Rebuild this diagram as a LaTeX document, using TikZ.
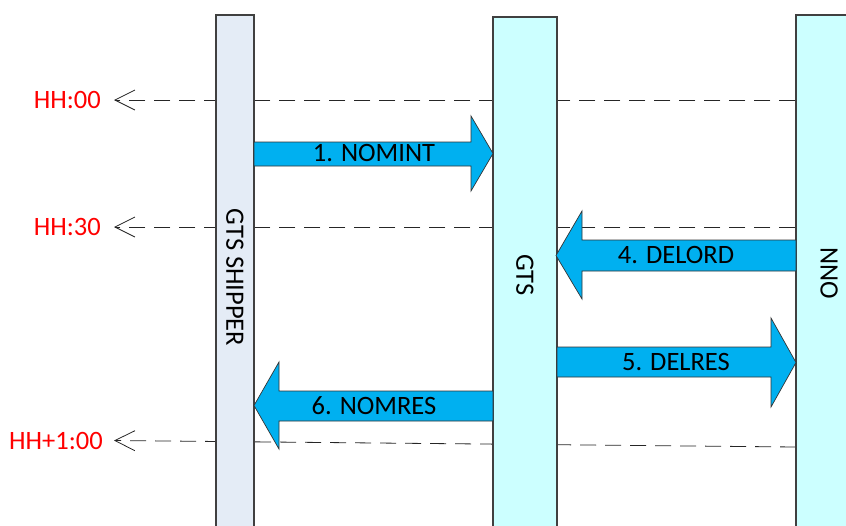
\documentclass[tikz,border=0pt]{standalone}
\usepackage{fontspec}
\setmainfont{Carlito}
\usepackage{tikz}
\usetikzlibrary{arrows.meta,positioning,backgrounds}

\definecolor{shipfill}{RGB}{228,236,246}
\definecolor{gtsfill}{RGB}{204,255,255}
\definecolor{msgblue}{RGB}{0,176,240}

\begin{document}
\begin{tikzpicture}[x=1pt,y=-1pt,font=\fontsize{26.5}{31}\selectfont]
  \tikzstyle{lane}=[draw=black!75,line width=1.2pt,minimum height=525pt,inner sep=0pt]
  \tikzstyle{lanetext}=[rotate=-90,text=black,inner sep=0pt]
  \tikzstyle{timeline}=[draw=black!85,line width=0.8pt,dash pattern=on 16pt off 9pt,
                        -{Straight Barb[length=20pt,width=20pt,line width=0.8pt]}]
  \tikzstyle{timelabel}=[text=red,inner sep=0pt]
  \tikzstyle{msg}=[fill=msgblue,draw=black!80,line width=0.7pt,line join=miter]
  \tikzstyle{msgtext}=[text=black,inner sep=0pt]

  \useasboundingbox (0,0) rectangle (846,525);

  % lanes
  \node[lane,fill=shipfill,minimum width=38pt] (ship) at (235,277.5) {};
  \node[lane,fill=gtsfill,minimum width=64pt]  (gts)  at (525,279.5) {};
  \node[lane,fill=gtsfill,minimum width=66pt]  (nno)  at (829,277.5) {};

  \node[lanetext] (shiplbl) at (ship) {GTS SHIPPER};
  \node[lanetext] (gtslbl)  at (525,275) {GTS};
  \node[lanetext] (nnolbl)  at (829,273) {NNO};

  % time marks
  \coordinate (t0) at (114,100);
  \coordinate (t1) at (114,227);
  \coordinate (t2) at (114,440.5);
  \coordinate (t2r) at (796,447);

  \node[timelabel,left=13pt of t0] (hh0)  {HH:00};
  \node[timelabel,left=13pt of t1] (hh30) {HH:30};
  \node[timelabel,left=11pt of t2] (hh1)  {HH+1:00};

  \begin{pgfonlayer}{background}
    \draw[timeline] (nno.west |- t0) -- (t0);
    \draw[timeline] (nno.west |- t1) -- (t1);
    \draw[timeline] (t2r) -- (t2);
  \end{pgfonlayer}

  % messages
  \draw[msg] (254,142) -- (471,142) -- (471,116) -- (493,153.5) -- (471,191)
             -- (471,166) -- (254,166) -- cycle;
  \draw[msg] (796,240) -- (582,240) -- (582,211) -- (556,255.5) -- (582,299)
             -- (582,271) -- (796,271) -- cycle;
  \draw[msg] (557,347) -- (771,347) -- (771,318) -- (796,362.5) -- (771,407)
             -- (771,377) -- (557,377) -- cycle;
  \draw[msg] (493,391) -- (279,391) -- (279,362) -- (254,405.5) -- (279,449)
             -- (279,421) -- (493,421) -- cycle;

  \node[msgtext] (m1) at (374,153) {1. NOMINT};
  \node[msgtext] (m4) at (676,255) {4. DELORD};
  \node[msgtext] (m5) at (676,362) {5. DELRES};
  \node[msgtext] (m6) at (374,406) {6. NOMRES};
\end{tikzpicture}
\end{document}
